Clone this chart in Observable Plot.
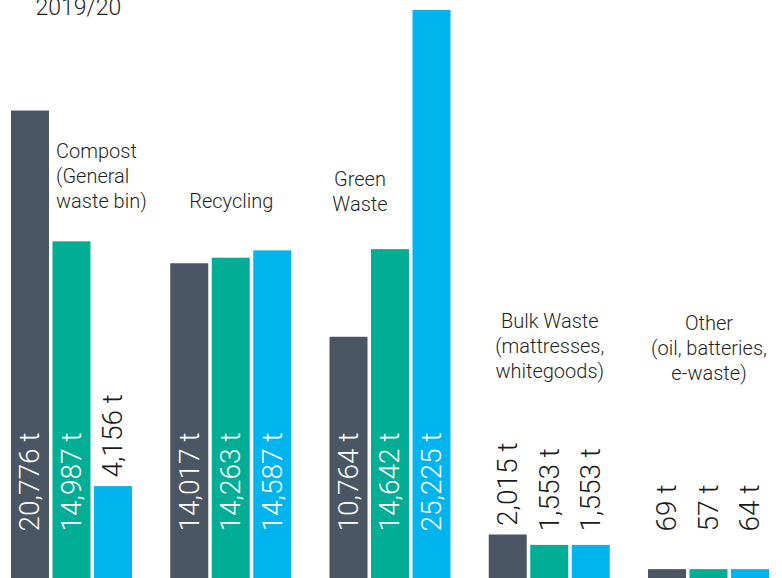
<!DOCTYPE html>
<html>
<head>
<meta charset="utf-8">
<script src="https://cdn.jsdelivr.net/npm/d3@7"></script>
<script src="https://cdn.jsdelivr.net/npm/@observablehq/plot@0.6"></script>
<style>
  html, body { margin: 0; padding: 0; background: #fff; }
  #chart { width: 782px; height: 578px; overflow: hidden; }
  #chart svg { overflow: visible; }
</style>
</head>
<body>
<div id="chart"></div>
<script>
// ---- data ----
const categories = [
  "Compost\n(General\nwaste bin)",
  "Recycling",
  "Green\nWaste",
  "Bulk Waste\n(mattresses,\nwhitegoods)",
  "Other\n(oil, batteries,\ne-waste)"
];
const series = ["2017/18", "2018/19", "2019/20"];
const values2017 = [20776, 14017, 10764, 2015, 69];
const values2018 = [14987, 14263, 14642, 1553, 57];
const values2019 = [4156, 14587, 25225, 1553, 64];
const headingText = ["2019/20"];

// ---- layout config ----
const colors = ["#4a5663", "#00ae95", "#00b4ee"];
const font = "Roboto, 'Liberation Sans', Helvetica, Arial, sans-serif";
const minShown = 480;       // smallest drawn bar (data units)
const labelBase = 2170;     // where value labels start (data units)

const seriesValues = [values2017, values2018, values2019];
const rows = [];
categories.forEach((c, i) => {
  series.forEach((s, j) => {
    const v = seriesValues[j][i];
    const inside = v >= 8000;
    rows.push({
      cat: c, ser: s, v,
      shown: Math.max(v, minShown),
      label: d3.format(",")(v) + " t",
      inside,
      ly: inside ? labelBase : Math.max(labelBase, v + 400)
    });
  });
});

// category label placement (anchor series, top y in data units, alignment, dx)
const catPlacement = [
  {ser: "2018/19", y: 19500, anchor: "start", dx: -16},
  {ser: "2018/19", y: 17250, anchor: "middle", dx: 0},
  {ser: "2017/18", y: 18250, anchor: "middle", dx: 11},
  {ser: "2018/19", y: 11980, anchor: "middle", dx: 0},
  {ser: "2018/19", y: 11850, anchor: "middle", dx: 0}
];
const catRows = categories.map((c, i) => ({cat: c, ...catPlacement[i]}));

const plot = Plot.plot({
  width: 782,
  height: 578,
  marginLeft: 11,
  marginRight: 13,
  marginTop: 0,
  marginBottom: 0,
  style: {fontFamily: font, background: "#fff", overflow: "visible"},
  fx: {domain: categories, paddingInner: 0.24, paddingOuter: 0, round: false, axis: null},
  x: {domain: series, paddingInner: 0.0843, paddingOuter: 0, round: false, axis: null},
  y: {domain: [0, 25225], range: [580, 10], axis: null},
  color: {domain: series, range: colors},
  marks: [
    Plot.barY(rows, {fx: "cat", x: "ser", y: "shown", fill: "ser"}),
    Plot.text(rows.filter(d => d.inside), {
      fx: "cat", x: "ser", y: "ly", text: "label",
      rotate: -90, textAnchor: "start", lineAnchor: "middle",
      fill: "#fff", fontSize: 28, fontWeight: 300
    }),
    Plot.text(rows.filter(d => !d.inside), {
      fx: "cat", x: "ser", y: "ly", text: "label",
      rotate: -90, textAnchor: "start", lineAnchor: "middle",
      fill: "#1a1a1a", fontSize: 28, fontWeight: 300
    }),
    ...catRows.map(r => Plot.text([r], {
      fx: "cat", x: "ser", y: "y", text: "cat",
      textAnchor: r.anchor, dx: r.dx, lineAnchor: "top",
      lineHeight: 1.25, fontSize: 20, fill: "#1f1f1f", fontWeight: 300
    })),
    Plot.text(headingText, {
      fx: () => categories[0],
      text: d => d, frameAnchor: "top-left", textAnchor: "start",
      lineAnchor: "top", dx: 24, dy: -2, fontSize: 23, fill: "#1f1f1f", fontWeight: 300
    })
  ]
});
document.getElementById("chart").appendChild(plot);
</script>
</body>
</html>
